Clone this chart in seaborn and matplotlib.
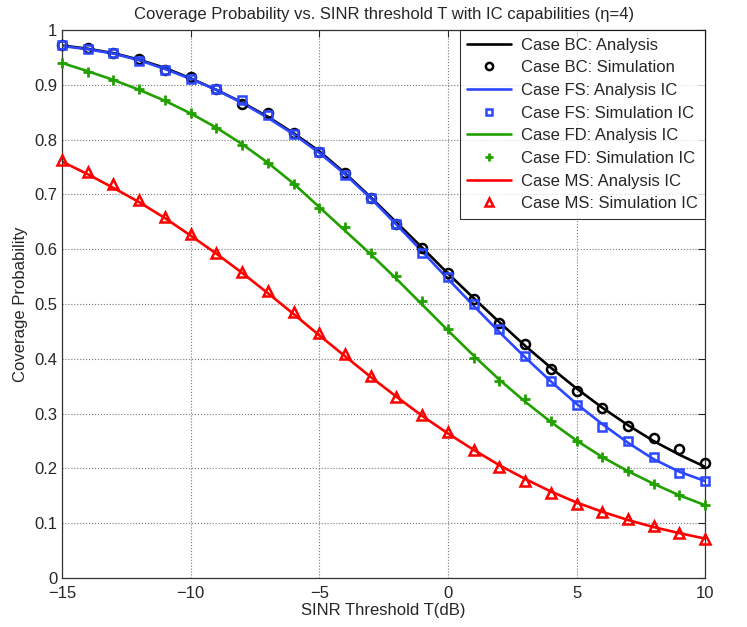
import numpy as np
import pandas as pd
import matplotlib
matplotlib.use("Agg")
import matplotlib.pyplot as plt
import seaborn as sns

# SINR threshold (dB)
sinr_db = list(range(-15, 11))

# Case BC
bc_ana = [0.972, 0.966, 0.958, 0.946, 0.931, 0.912, 0.891, 0.868, 0.842, 0.812, 0.779, 0.739, 0.695,
          0.649, 0.603, 0.556, 0.511, 0.467, 0.424, 0.384, 0.346, 0.311, 0.279, 0.250, 0.225, 0.203]
bc_sim = [0.973, 0.968, 0.959, 0.947, 0.927, 0.914, 0.892, 0.866, 0.849, 0.812, 0.778, 0.739, 0.693,
          0.646, 0.602, 0.557, 0.510, 0.465, 0.427, 0.381, 0.341, 0.310, 0.278, 0.255, 0.235, 0.210]
# Case FS
fs_ana = [0.971, 0.965, 0.957, 0.945, 0.929, 0.911, 0.891, 0.867, 0.840, 0.810, 0.776, 0.737, 0.693,
          0.645, 0.596, 0.546, 0.497, 0.449, 0.403, 0.359, 0.318, 0.281, 0.247, 0.217, 0.194, 0.177]
fs_sim = [0.972, 0.966, 0.959, 0.943, 0.928, 0.911, 0.892, 0.872, 0.845, 0.810, 0.777, 0.736, 0.693,
          0.646, 0.593, 0.549, 0.500, 0.454, 0.405, 0.360, 0.316, 0.276, 0.250, 0.221, 0.192, 0.177]
# Case FD
fd_ana = [0.940, 0.925, 0.909, 0.891, 0.871, 0.848, 0.822, 0.792, 0.758, 0.720, 0.677, 0.634, 0.591,
          0.546, 0.499, 0.452, 0.406, 0.362, 0.322, 0.285, 0.251, 0.221, 0.195, 0.172, 0.151, 0.133]
fd_sim = [0.940, 0.923, 0.909, 0.892, 0.872, 0.849, 0.821, 0.790, 0.757, 0.719, 0.675, 0.641, 0.593,
          0.552, 0.506, 0.454, 0.401, 0.360, 0.327, 0.286, 0.250, 0.221, 0.195, 0.172, 0.151, 0.133]
# Case MS
ms_ana = [0.760, 0.737, 0.712, 0.686, 0.657, 0.625, 0.592, 0.557, 0.520, 0.482, 0.443, 0.405, 0.367,
          0.331, 0.296, 0.264, 0.234, 0.206, 0.181, 0.158, 0.138, 0.121, 0.106, 0.093, 0.082, 0.072]
ms_sim = [0.763, 0.741, 0.719, 0.690, 0.659, 0.628, 0.593, 0.558, 0.524, 0.486, 0.447, 0.409, 0.369,
          0.331, 0.297, 0.266, 0.234, 0.203, 0.177, 0.155, 0.136, 0.121, 0.107, 0.095, 0.082, 0.071]

sns.set_style("white")
plt.rcParams['font.family'] = ['Liberation Sans', 'DejaVu Sans']
fs = 12

col_bc = "black"
col_fs = "#2b47ff"
col_fd = "#21a000"
col_ms = "#ff0000"

fig = plt.figure(figsize=(7.47, 6.27), dpi=100)
ax = fig.add_axes([0.083, 0.078, 0.861, 0.874])

curves = [
    ("BC", bc_ana, bc_sim, col_bc, "o", "Case BC: Analysis", "Case BC: Simulation"),
    ("FS", fs_ana, fs_sim, col_fs, "s", "Case FS: Analysis IC", "Case FS: Simulation IC"),
    ("FD", fd_ana, fd_sim, col_fd, "P", "Case FD: Analysis IC", "Case FD: Simulation IC"),
    ("MS", ms_ana, ms_sim, col_ms, "^", "Case MS: Analysis IC", "Case MS: Simulation IC"),
]

for case, ana, sim, c, mk, lab_a, lab_s in curves:
    df = pd.DataFrame({"T": sinr_db, "ana": ana, "sim": sim})
    sns.lineplot(data=df, x="T", y="ana", color=c, lw=1.9, ax=ax, label=lab_a)
    if mk == "P":
        ax.plot(df["T"], df["sim"], ls="none", marker="+", ms=6.5, mew=2,
                color=c, label=lab_s, clip_on=False, zorder=3)
    else:
        ax.plot(df["T"], df["sim"], ls="none", marker=mk, ms=6.5 if mk != "s" else 5.5,
                mfc="none", mew=1.8, color=c, label=lab_s, clip_on=False, zorder=3)

ax.set_xlim(-15, 10)
ax.set_ylim(0, 1)
ax.set_xticks([-15, -10, -5, 0, 5, 10])
ax.set_xticklabels(["\u221215", "\u221210", "\u22125", "0", "5", "10"])
ax.set_yticks(np.arange(0, 1.01, 0.1))
ax.set_yticklabels(["0", "0.1", "0.2", "0.3", "0.4", "0.5", "0.6", "0.7", "0.8", "0.9", "1"])
ax.tick_params(direction="in", top=True, right=True, labelsize=fs, length=5, width=0.8)
ax.tick_params(axis="x", pad=6)
ax.grid(True, ls=":", color="#777777", lw=0.8)
for s in ax.spines.values():
    s.set_color("#333333")
    s.set_linewidth(0.9)

ax.set_xlabel("SINR Threshold T(dB)", fontsize=fs, labelpad=1)
ax.set_ylabel("Coverage Probability", fontsize=fs, labelpad=4)
ax.set_title("Coverage Probability vs. SINR threshold T with IC capabilities (\u03b7=4)",
             fontsize=fs, pad=8)

leg = ax.legend(loc="upper right", fontsize=fs, frameon=True, fancybox=False,
                edgecolor="black", borderaxespad=0, handlelength=2.6,
                labelspacing=0.46, borderpad=0.45, handletextpad=0.6, markerscale=0.8)
leg.get_frame().set_linewidth(0.8)

fig.savefig("out.png", dpi=100)
